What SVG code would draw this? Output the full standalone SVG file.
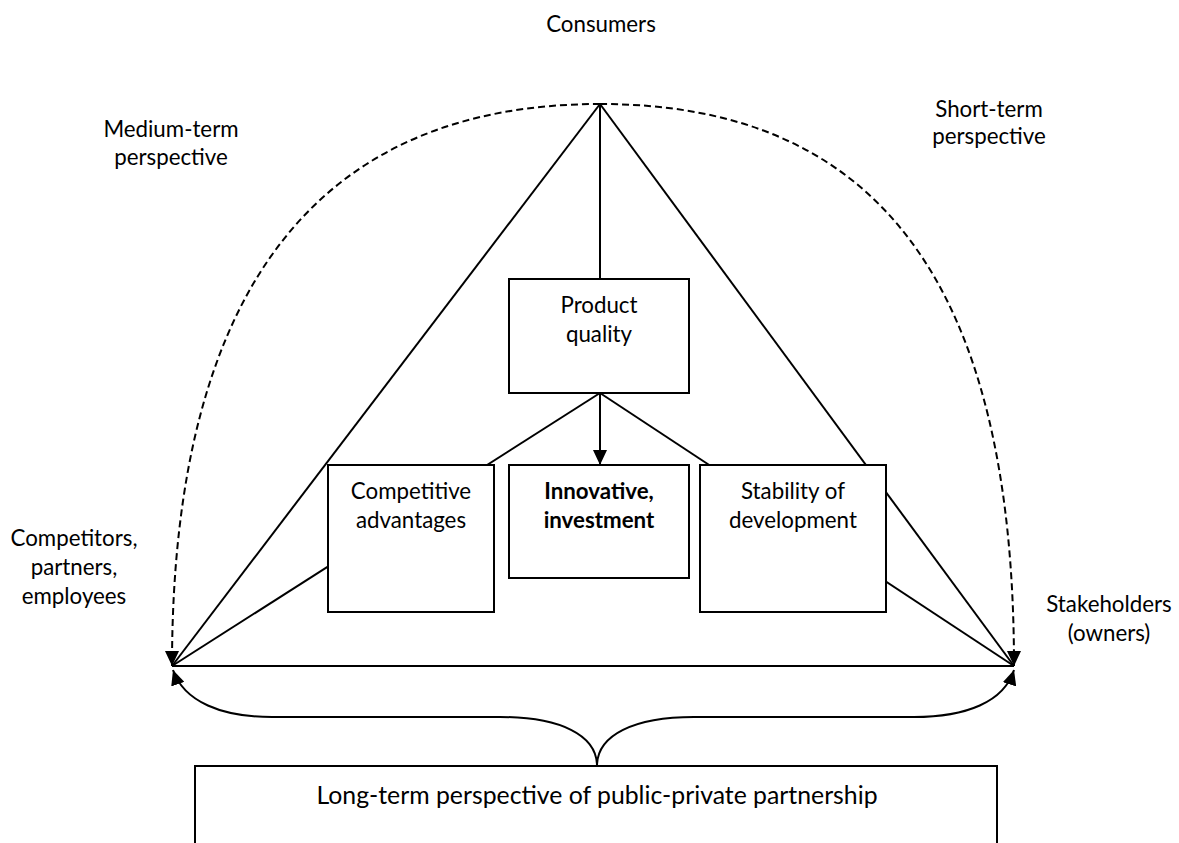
<svg xmlns="http://www.w3.org/2000/svg" width="1179" height="843" viewBox="0 0 1179 843">
<style>
  .ln { fill: none; stroke: #000; stroke-width: 2; }
  .dash { fill: none; stroke: #000; stroke-width: 2; stroke-dasharray: 7 4; }
  .box { fill: #fff; stroke: #000; stroke-width: 2; }
  .t { font-family: Lato, "Liberation Sans", sans-serif; font-size: 22.3px; fill: #000; text-anchor: middle; }
  .b { font-weight: bold; }
  .big { font-size: 24.8px; }
</style>
<defs>
  <marker id="ah" markerUnits="userSpaceOnUse" markerWidth="16" markerHeight="14" refX="15" refY="7" orient="auto">
    <path d="M0,0 L15,7 L0,14 Z" fill="#000"/>
  </marker>
</defs>
<rect width="1179" height="843" fill="#fff"/>
<g id="connectors">
  <line class="ln" x1="600" y1="104" x2="172" y2="666"/>
  <line class="ln" x1="600" y1="104" x2="1014" y2="666"/>
  <line class="ln" x1="172" y1="666" x2="1014" y2="666"/>
  <line class="ln" x1="600" y1="104" x2="600" y2="279"/>
  <line class="ln" x1="600" y1="393" x2="172" y2="666"/>
  <line class="ln" x1="600" y1="393" x2="1014" y2="666"/>
  <line class="ln" x1="600" y1="393" x2="600" y2="465" marker-end="url(#ah)"/>
  <path class="dash" d="M600,104 C325,104 172,280 172,666" marker-end="url(#ah)"/>
  <path class="dash" d="M600,104 C875,104 1014,280 1014,666" marker-end="url(#ah)"/>
  <path class="ln" d="M597,766 C597,735 560,717 500,717 L272,717 C222,717 184,702 173,670" marker-end="url(#ah)"/>
  <path class="ln" d="M597,766 C597,735 634,717 694,717 L914,717 C966,717 1004,702 1014,670" marker-end="url(#ah)"/>
</g>
<g id="consumers"><text class="t" x="601" y="32">Consumers</text></g>
<g id="medium-term"><text class="t" x="171" y="137">Medium-term</text><text class="t" x="171" y="165">perspective</text></g>
<g id="short-term"><text class="t" x="989" y="117">Short-term</text><text class="t" x="989" y="144">perspective</text></g>
<g id="competitors"><text class="t" x="74" y="546">Competitors,</text><text class="t" x="74" y="575">partners,</text><text class="t" x="74" y="604">employees</text></g>
<g id="stakeholders"><text class="t" x="1109" y="612">Stakeholders</text><text class="t" x="1109" y="641">(owners)</text></g>
<g id="product-quality"><rect class="box" x="509" y="279" width="180" height="114"/><text class="t" x="599" y="313">Product</text><text class="t" x="599" y="342">quality</text></g>
<g id="competitive-advantages"><rect class="box" x="328" y="465" width="166" height="147"/><text class="t" x="411" y="499">Competitive</text><text class="t" x="411" y="528">advantages</text></g>
<g id="innovative"><rect class="box" x="509" y="465" width="180" height="113"/><text class="t b" x="599" y="499">Innovative,</text><text class="t b" x="599" y="528">investment</text></g>
<g id="stability"><rect class="box" x="700" y="465" width="186" height="147"/><text class="t" x="793" y="499">Stability of</text><text class="t" x="793" y="528">development</text></g>
<g id="long-term"><rect class="box" x="195" y="766" width="802" height="100"/><text class="t big" x="597" y="804">Long-term perspective of public-private partnership</text></g>
</svg>
